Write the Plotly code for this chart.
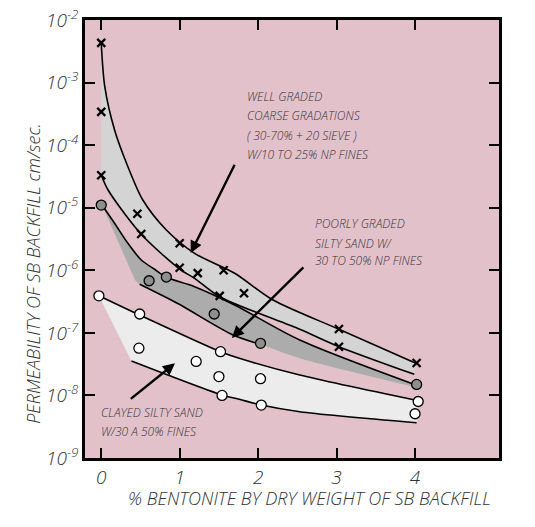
import plotly.graph_objects as go

# ---------------- data ----------------
# Well graded coarse gradations (crosses)
wg_x = [0, 0, 0, 0.46, 0.51, 1.0, 1.0, 1.23, 1.56, 1.51, 1.82, 3.03, 3.03, 4.02]
wg_y = [4.3e-3, 3.4e-4, 3.3e-5, 8e-6, 3.8e-6, 2.7e-6, 1.1e-6, 9e-7, 1.0e-6, 3.9e-7, 4.3e-7, 1.15e-7, 6e-8, 3.3e-8]

# Poorly graded silty sand (gray circles)
pg_x = [0, 0.61, 0.83, 1.44, 2.03, 4.02]
pg_y = [1.1e-5, 6.8e-7, 7.8e-7, 2.0e-7, 6.8e-8, 1.5e-8]

# Clayed silty sand (open circles)
cs_x = [-0.03, 0.49, 0.48, 1.21, 1.52, 1.50, 1.54, 2.03, 2.04, 4.04, 4.0]
cs_y = [3.9e-7, 2.0e-7, 5.7e-8, 3.5e-8, 5e-8, 2.0e-8, 1.0e-8, 1.85e-8, 7e-9, 8e-9, 5.1e-9]

# Band boundary curves (x, log10 k)
b1u_x = [0.0, 0.045, 0.17, 0.34, 0.53, 0.83, 1.19, 1.70, 2.19, 3.03, 4.01]
b1u_l = [-2.368, -3.066, -3.758, -4.345, -4.877, -5.356, -5.729, -6.048, -6.475, -6.943, -7.487]
b1l_x = [0.0, 0.087, 0.51, 1.0, 1.19, 1.51, 2.53, 3.03, 3.99]
b1l_l = [-4.477, -4.717, -5.425, -5.98, -6.128, -6.422, -6.943, -7.221, -7.663]

b2u_x = [0.01, 0.17, 0.34, 0.51, 0.68, 0.83, 1.19, 1.70, 2.53, 4.01]
b2u_l = [-4.957, -5.249, -5.569, -5.836, -5.984, -6.112, -6.262, -6.555, -7.114, -7.833]
b2l_x = [0.49, 0.97, 1.68, 2.03]
b2l_l = [-6.224, -6.528, -7.034, -7.183]
b2f_x = [0.43, 0.49, 0.97, 1.68, 2.03, 2.53, 4.01]
b2f_l = [-6.155, -6.224, -6.528, -7.034, -7.183, -7.406, -7.87]

b3u_x = [-0.03, 0.49, 1.52, 1.76, 2.53, 4.04]
b3u_l = [-6.406, -6.715, -7.301, -7.407, -7.674, -8.084]
b3l_x = [0.385, 1.54, 1.76, 2.04, 2.53, 4.02]
b3l_l = [-7.45, -7.993, -8.062, -8.153, -8.26, -8.436]

x_ticks = [0, 1, 2, 3, 4]
y_exps = [-9, -8, -7, -6, -5, -4, -3, -2]

# ---------------- styling ----------------
BG = "#e3c1cb"
BAND1 = "#d4d4d4"
BAND2 = "#acacac"
BAND3 = "#ececec"
TXT = "#333333"
FONT = "Open Sans"


def p(v):
    return [10 ** e for e in v]


fig = go.Figure()

line_kw = dict(color="black", width=1.6, shape="spline", smoothing=0.8)
noline = dict(color="rgba(0,0,0,0)", width=0, shape="spline", smoothing=0.8)

# band 1
fig.add_trace(go.Scatter(x=b1l_x, y=p(b1l_l), mode="lines", line=line_kw, hoverinfo="skip"))
fig.add_trace(go.Scatter(x=b1u_x, y=p(b1u_l), mode="lines", line=line_kw, fill="tonexty",
                         fillcolor=BAND1, hoverinfo="skip"))
# band 2
fig.add_trace(go.Scatter(x=b2f_x, y=p(b2f_l), mode="lines", line=noline, hoverinfo="skip"))
fig.add_trace(go.Scatter(x=b2u_x, y=p(b2u_l), mode="lines", line=line_kw, fill="tonexty",
                         fillcolor=BAND2, hoverinfo="skip"))
fig.add_trace(go.Scatter(x=b2l_x, y=p(b2l_l), mode="lines", line=line_kw, hoverinfo="skip"))
# band 3
fig.add_trace(go.Scatter(x=b3l_x, y=p(b3l_l), mode="lines", line=line_kw, hoverinfo="skip"))
fig.add_trace(go.Scatter(x=b3u_x, y=p(b3u_l), mode="lines", line=line_kw, fill="tonexty",
                         fillcolor=BAND3, hoverinfo="skip"))

# markers
fig.add_trace(go.Scatter(x=wg_x, y=wg_y, mode="markers",
                         marker=dict(symbol="x-thin", size=8, line=dict(color="black", width=2.3))))
fig.add_trace(go.Scatter(x=pg_x, y=pg_y, mode="markers",
                         marker=dict(symbol="circle", size=10, color="#8e8e8e",
                                     line=dict(color="black", width=1.3))))
fig.add_trace(go.Scatter(x=cs_x, y=cs_y, mode="markers",
                         marker=dict(symbol="circle", size=10, color="white",
                                     line=dict(color="black", width=1.3))))

tfont = dict(family=FONT, size=12, color=TXT, style="italic", weight=300)
labels = [
    (0.386, 0.8249, "WELL GRADED"),
    (0.386, 0.7831, "COARSE GRADATIONS"),
    (0.386, 0.7358, "( 30-70% + 20 SIEVE )"),
    (0.386, 0.6918, "W/10 TO 25% NP FINES"),
    (0.550, 0.5358, "POORLY GRADED"),
    (0.550, 0.4902, "SILTY SAND W/"),
    (0.550, 0.4505, "30 TO 50% NP FINES"),
    (0.0334, 0.1043, "CLAYED SILTY SAND"),
    (0.0334, 0.0600, "W/30 A 50% FINES"),
]
for xx, yy, t in labels:
    fig.add_annotation(x=xx, y=yy, xref="paper", yref="paper", text=t, showarrow=False,
                       xanchor="left", yanchor="middle", font=tfont)

# arrows (tip in data coords, tail as pixel offset)
arrows = [(1.14, -5.724, 44.7, -89.7), (1.665, -7.082, 73, -72), (0.94, -7.487, -45.7, 36.7)]
for xx, ly, ax, ay in arrows:
    fig.add_annotation(x=xx, y=ly, xref="x", yref="y", ax=ax, ay=ay, text="",
                       showarrow=True, arrowhead=2, arrowsize=1.0, arrowwidth=2.4,
                       arrowcolor="black", standoff=0)

# axis titles
fig.add_annotation(x=-0.16, y=0.42, xref="paper", yref="paper", textangle=-90,
                   text="PERMEABILITY OF SB BACKFILL cm/sec.", showarrow=False,
                   font=dict(family=FONT, size=18, color=TXT, style="italic", weight=300))
fig.add_annotation(x=0.542, y=-0.1226, xref="paper", yref="paper",
                   text="% BENTONITE BY DRY WEIGHT OF SB BACKFILL", showarrow=False,
                   font=dict(family=FONT, size=18, color=TXT, style="italic", weight=300))

tick_font = dict(family=FONT, size=19, color=TXT, style="italic", weight=300)
fig.update_xaxes(range=[-0.207, 5.07], tickvals=x_ticks, ticktext=[str(v) for v in x_ticks],
                 ticks="inside", ticklen=10, tickwidth=2, tickcolor="black",
                 showline=True, linecolor="black", linewidth=2.5, mirror="allticks",
                 showgrid=False, zeroline=False, tickfont=tick_font, automargin=False)
fig.update_yaxes(type="log", range=[-9, -2], tickvals=[10 ** e for e in y_exps],
                 ticktext=[f"10<sup>{e}</sup>" for e in y_exps],
                 ticks="inside", ticklen=10, tickwidth=2, tickcolor="black",
                 showline=True, linecolor="black", linewidth=2.5, mirror="allticks",
                 showgrid=False, zeroline=False, tickfont=tick_font, automargin=False)

fig.update_layout(width=535, height=527, margin=dict(l=85, r=36, t=20, b=69, autoexpand=False),
                  plot_bgcolor=BG, paper_bgcolor="white", showlegend=False)

fig.write_html("out.html", config={"displayModeBar": False},
               post_script="document.body.style.margin='0';")
